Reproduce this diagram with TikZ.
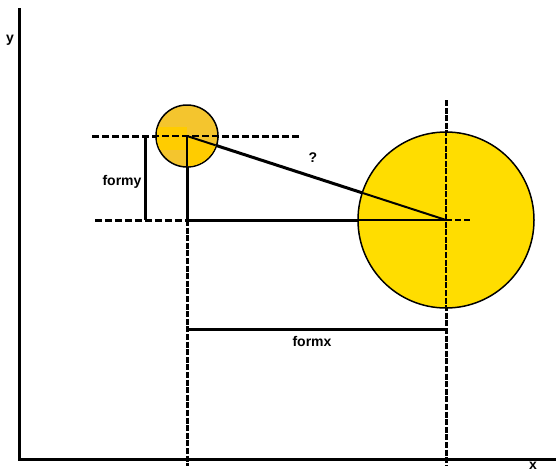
\documentclass[tikz,border=0pt]{standalone}
\usepackage{fontspec}
\setsansfont{Liberation Sans}
\usetikzlibrary{positioning}
\definecolor{smallsun}{RGB}{244,197,46}
\definecolor{smallsundark}{RGB}{255,204,0}
\definecolor{bigsun}{RGB}{255,221,0}

\begin{document}
\begin{tikzpicture}[
  x=0.5pt,y=-0.5pt,
  axis/.style={line width=1.5pt},
  guide/.style={line width=1.5pt,dash pattern=on 3.5pt off 1.5pt},
  fineguide/.style={line width=1.5pt,dash pattern=on 3pt off 0.8pt},
  measure/.style={line width=1.5pt},
  inside/.style={line width=1pt},
  sun/.style={circle,draw,line width=0.75pt,inner sep=0pt},
  lbl/.style={font=\sffamily\bfseries\fontsize{7}{8}\selectfont,inner sep=1pt}
]
\useasboundingbox (0,0) rectangle (556,472);

\coordinate (origin) at (19,459);
\coordinate (ytop) at (19,8);
\coordinate (xend) at (556,459);
\coordinate (scentre) at (187,136);
\coordinate (bcentre) at (446,220);
\coordinate (topleft) at (92,136);
\coordinate (topright) at (300,136);
\coordinate (lowleft) at (95,220);
\coordinate (meet) at (187,220);
\coordinate (lowright) at (472,220);
\coordinate (formytop) at (145,136);
\coordinate (formybot) at (145,220);
\coordinate (sfoot) at (187,466);
\coordinate (btop) at (446,100);
\coordinate (bfoot) at (446,466);
\coordinate (formxl) at (187,329);
\coordinate (formxr) at (446,329);

\draw[axis] (ytop) -- (origin) -- (xend);
\node[lbl] (ylabel) at (10,40) {y};
\node[lbl] (xlabel) at (533,466) {x};

\draw[guide] (topleft) -- (topright);
\draw[guide] (lowleft) -- (meet);
\draw[measure] (meet) -- (bcentre);
\draw[measure] (formytop) -- (formybot);
\node[lbl] (formy) at (122,182) {formy};
\draw[measure] (scentre) -- (meet);
\draw[fineguide] (meet) -- (sfoot);
\draw[fineguide] (btop) -- (bfoot);
\draw[measure] (scentre) -- (bcentre);
\node[lbl] (dist) at (313,158) {?};
\draw[measure] (formxl) -- (formxr);
\node[lbl] (formx) at (312,341) {formx};

\node[sun,fill=bigsun,minimum size=88pt] (big) at (bcentre) {};
\node[sun,fill=smallsun,minimum size=31pt] (small) at (scentre) {};
\begin{scope}
  \clip (small.center) circle[radius=15.1pt];
  \fill[smallsundark] (157,127) rectangle (187,150);
  \fill[smallsundark] (small.center) -- (235,151) -- (235,175) -- (187,175) -- cycle;
  \draw[inside,dash pattern=on 3.5pt off 1.5pt] (topleft) -- (topright);
  \draw[inside] (small.center) -- (meet);
  \draw[inside] (small.center) -- (big.center);
\end{scope}
\begin{scope}
  \clip (big.center) circle[radius=43.6pt];
  \draw[inside] (meet) -- (big.center);
  \draw[inside] (small.center) -- (big.center);
  \draw[inside,dash pattern=on 3pt off 1.5pt] (big.center) -- (lowright);
  \draw[inside,dash pattern=on 3pt off 0.8pt] (btop) -- (bfoot);
\end{scope}
\end{tikzpicture}
\end{document}
